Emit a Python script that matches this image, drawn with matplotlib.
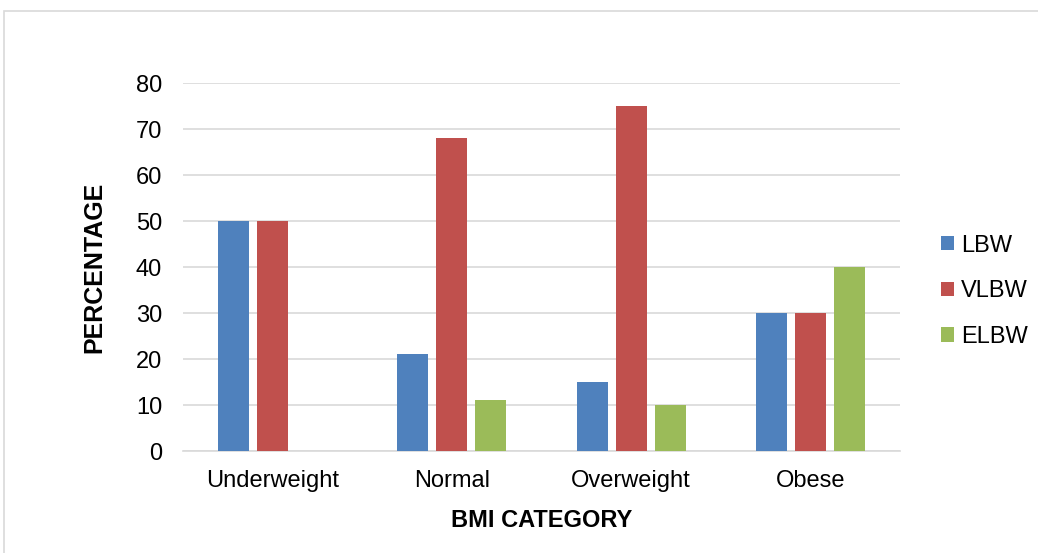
import matplotlib.pyplot as plt
from matplotlib.patches import Rectangle
import numpy as np

plt.rcParams['font.family'] = ['Liberation Sans', 'DejaVu Sans']

categories = ['Underweight', 'Normal', 'Overweight', 'Obese']
lbw = [50, 21, 15, 30]
vlbw = [50, 68, 75, 30]
elbw = [0, 11, 10, 40]

series = [('LBW', lbw, '#4F81BD'), ('VLBW', vlbw, '#C0504D'), ('ELBW', elbw, '#9BBB59')]

fig = plt.figure(figsize=(10.38, 5.53), dpi=100)
ax = fig.add_axes([0.1763, 0.1844, 0.6907, 0.6655])

# outer chart frame (runs off the right and bottom edges)
fig.patches.append(Rectangle((4 / 1038, -0.05), 1.1, 1 - 11 / 553 + 0.05,
                             transform=fig.transFigure, fill=False,
                             edgecolor='#D9D9D9', lw=1.2))

x = np.arange(len(categories))
width = 0.173
step = 0.218
for i, (name, vals, color) in enumerate(series):
    ax.bar(x + (i - 1) * step, vals, width, color=color, label=name, zorder=3)

ax.set_xlim(-0.5, 3.5)
ax.set_ylim(0, 80)
ax.set_yticks(range(0, 81, 10))
ax.set_xticks(x)
ax.set_xticklabels(categories)
ax.tick_params(axis='both', length=0, labelsize=17)
ax.tick_params(axis='x', pad=14)
ax.tick_params(axis='y', pad=15)
ax.yaxis.grid(True, color='#D9D9D9', lw=1.2, zorder=0)
for s in ['top', 'right', 'left']:
    ax.spines[s].set_visible(False)
ax.spines['bottom'].set_color('#D9D9D9')
ax.spines['bottom'].set_linewidth(1.2)

ax.set_xlabel('BMI CATEGORY', fontsize=17, fontweight='bold', labelpad=12)
ax.set_ylabel('PERCENTAGE', fontsize=18, fontweight='bold', labelpad=21)

ax.legend(loc='center left', bbox_to_anchor=(1.057, 0.434), frameon=False,
          fontsize=17, handlelength=0.55, handleheight=0.55, handletextpad=0.3,
          labelspacing=1.0, borderpad=0, borderaxespad=0)

fig.savefig('out.png', dpi=100, facecolor='white')
